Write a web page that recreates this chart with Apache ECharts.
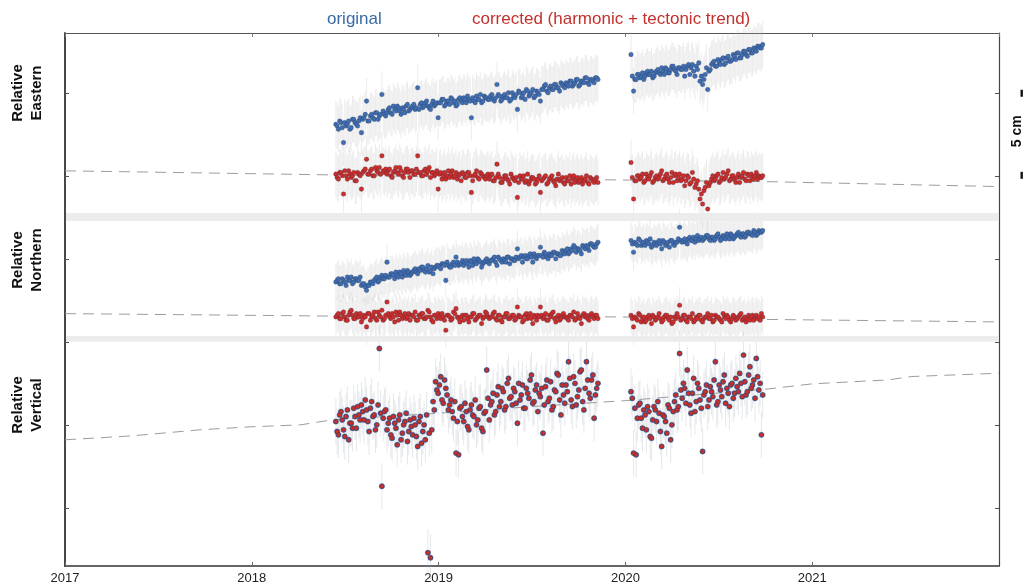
<!DOCTYPE html>
<html>
<head>
<meta charset="utf-8">
<script src="https://cdn.jsdelivr.net/npm/echarts@6/dist/echarts.min.js"></script>
<style>
  html, body { margin: 0; padding: 0; background: #ffffff; }
  #chart { width: 1025px; height: 586px; }
</style>
</head>
<body>
<div id="chart"></div>
<script>
// GNSS station displacement, two observation spans.
// Solutions are listed in two interleaved sets: "a" every 5 days from the span start,
// "b" every 5 days starting 2.5 days later.
const spanStart = [2018.45, 2020.03];   // decimal year of first solution in each span
const stepDays = 5;

// Relative Eastern (mm) - original solutions
const eastOriginal1a = [
  31, 28, 32, 20, 30, 33, 29, 34, 31, 33,
  26, 35, 45, 33, 37, 34, 38, 36, 49, 37,
  38, 41, 37, 40, 42, 39, 41, 38, 43, 40,
  42, 40, 53, 43, 41, 44, 42, 40, 45, 43,
  35, 44, 46, 43, 45, 47, 44, 42, 46, 45,
  47, 44, 46, 35, 45, 48, 46, 44, 48, 47,
  46, 49, 45, 55, 48, 46, 49, 47, 45, 50,
  47, 40, 50, 48, 46, 51, 49, 52, 48, 50,
  45, 52, 55, 50, 54, 52, 55, 53, 56, 54,
  56, 54, 57, 55, 58, 54, 57, 56, 59, 55,
  58, 56, 59
];
const eastOriginal1b = [
  30, 33, 29, 32, 31, 28, 34, 32, 30, 35,
  34, 37, 33, 36, 35, 38, 34, 37, 39, 36,
  40, 38, 42, 39, 41, 37, 40, 42, 39, 41,
  43, 41, 40, 44, 42, 45, 41, 43, 42, 44,
  44, 46, 42, 45, 43, 46, 45, 43, 47, 44,
  46, 48, 45, 47, 44, 46, 49, 45, 47, 46,
  48, 46, 47, 49, 45, 48, 47, 50, 46, 48,
  49, 51, 47, 50, 52, 48, 50, 47, 51, 49,
  52, 54, 51, 53, 52, 55, 53, 51, 55, 53,
  55, 57, 54, 56, 58, 55, 57, 59, 56, 58,
  57, 59, 58
];
const eastOriginal2a = [
  73, 51, 58, 61, 60, 58, 62, 61, 63, 60,
  63, 62, 65, 61, 64, 62, 66, 64, 61, 65,
  64, 60, 66, 61, 67, 60, 64, 57, 55, 61,
  52, 64, 68, 66, 70, 67, 71, 68, 72, 69,
  73, 70, 74, 71, 75, 73, 76, 74, 77, 75,
  78, 77
];
const eastOriginal2b = [
  60, 58, 61, 59, 62, 60, 63, 61, 59, 62,
  64, 61, 63, 65, 62, 64, 66, 63, 65, 64,
  66, 64, 67, 65, 63, 66, 68, 60, 58, 65,
  63, 67, 69, 66, 68, 70, 67, 71, 69, 70,
  72, 74, 71, 73, 75, 72, 76, 74, 76, 78,
  77, 79
];
// Relative Eastern (mm) - corrected (harmonic + tectonic trend removed)
const eastCorrected1a = [
  1, -2, 2, -11, 0, 3, -1, 2, -3, 1,
  -8, 3, 10, 1, 4, 0, 3, 5, 12, 2,
  1, 4, -1, 3, 2, 5, 0, 2, 4, -1,
  3, 1, 12, 2, 0, 4, 3, -1, 2, 1,
  -8, 2, 0, -2, 3, 1, -1, 2, 0, -3,
  1, -1, 2, -10, 0, 3, -2, 1, -1, 0,
  -2, 1, -3, 7, -1, -4, 0, -2, -5, -1,
  -3, -13, 0, -2, -4, 1, -3, -1, -5, -2,
  -10, -2, 0, -4, -1, -3, -6, 1, -2, -4,
  -1, -3, -5, 0, -2, -4, -1, -3, 0, -5,
  -2, -4, -1
];
const eastCorrected1b = [
  -1, 2, 0, 3, -2, 1, 0, -3, 2, 0,
  2, 4, 1, 3, 0, 5, 2, 1, 3, 4,
  3, 0, 2, 5, 1, 3, -1, 4, 2, 3,
  1, 4, 2, 0, 3, 1, 5, 2, 0, 3,
  1, -2, 2, 0, -1, 3, 0, -2, 1, 2,
  -1, 2, 0, -3, 1, -1, 2, 0, -2, 1,
  0, -3, -1, 1, -4, -2, 0, -3, 1, -2,
  -1, -4, -2, 0, -3, -5, -1, -2, -4, 0,
  -3, -1, -5, -2, 0, -4, -2, -3, -1, -5,
  -3, 0, -2, -4, -1, -3, -5, -2, -4, -1,
  -3, -2, -4
];
const eastCorrected2a = [
  8, -14, -3, 0, -1, -4, 1, -2, 2, -3,
  0, -1, 3, -2, 1, -4, 2, 0, -3, 1,
  -2, -6, 0, -5, 2, -7, -3, -14, -17, -7,
  -20, -4, 0, -2, 1, -3, 2, -1, 3, -2,
  0, -4, 1, -1, 2, -3, 0, 1, -2, 2,
  0, -1
];
const eastCorrected2b = [
  -1, -3, 0, -2, 1, -3, -1, 0, -4, -1,
  -2, 1, -3, 0, -2, -1, -4, 1, -1, -3,
  0, -3, -1, -4, -2, -5, -8, -11, -9, -4,
  -6, -2, -3, 0, -4, -1, -2, 1, -3, 0,
  -2, -1, -4, 0, -2, 1, -3, -1, 0, -2,
  -1, 0
];

// Relative Northern (mm) - original solutions
const northOriginal1a = [
  21, 23, 20, 22, 19, 22, 24, 21, 23, 22,
  19, 20, 16, 19, 21, 22, 24, 22, 25, 23,
  33, 24, 26, 23, 25, 27, 24, 26, 28, 25,
  27, 29, 26, 28, 30, 27, 31, 28, 26, 30,
  31, 29, 32, 22, 31, 30, 33, 36, 31, 32,
  31, 34, 30, 33, 35, 32, 34, 30, 33, 35,
  32, 34, 36, 31, 35, 33, 34, 36, 32, 35,
  34, 41, 36, 33, 37, 35, 38, 33, 36, 37,
  42, 36, 38, 35, 37, 39, 35, 38, 37, 39,
  40, 38, 41, 43, 39, 41, 38, 42, 43, 40,
  44, 42, 44
];
const northOriginal1b = [
  22, 20, 23, 21, 24, 22, 20, 23, 22, 24,
  20, 18, 19, 21, 20, 23, 21, 24, 23, 25,
  24, 26, 25, 27, 24, 26, 28, 25, 27, 26,
  28, 27, 29, 30, 28, 29, 27, 30, 29, 31,
  30, 32, 31, 33, 30, 32, 31, 33, 32, 34,
  33, 32, 34, 31, 33, 35, 33, 32, 34, 33,
  34, 35, 33, 36, 34, 35, 33, 36, 35, 34,
  36, 35, 37, 36, 35, 37, 36, 38, 35, 37,
  37, 39, 36, 38, 37, 39, 38, 37, 40, 38,
  41, 39, 40, 42, 41, 40, 43, 41, 42, 44,
  43, 42, 45
];
const northOriginal2a = [
  46, 39, 44, 47, 43, 45, 46, 44, 42, 45,
  43, 46, 41, 45, 44, 42, 46, 43, 45, 54,
  45, 47, 44, 48, 46, 45, 49, 47, 46, 48,
  49, 46, 48, 47, 50, 46, 49, 47, 48, 50,
  47, 49, 51, 48, 50, 49, 51, 50, 52, 49,
  52, 51
];
const northOriginal2b = [
  44, 45, 43, 46, 44, 43, 45, 47, 43, 44,
  45, 44, 46, 43, 45, 46, 44, 45, 47, 46,
  46, 45, 47, 46, 48, 47, 46, 48, 47, 49,
  47, 48, 46, 49, 48, 47, 48, 50, 47, 49,
  48, 50, 49, 50, 48, 51, 50, 49, 51, 50,
  51, 52
];
// Relative Northern (mm) - corrected
const northCorrected1a = [
  0, 2, -1, 3, -2, 1, 4, -1, 2, 0,
  -3, 1, -6, 2, 0, 3, -2, 1, 4, -1,
  9, 0, 2, -3, 1, 3, -1, 2, 0, -2,
  1, 3, -2, 0, 2, -1, 4, 0, -3, 1,
  2, -1, 0, -8, 1, -2, 3, 5, -1, 0,
  -2, 1, -3, 0, 2, -1, 1, -4, 0, 2,
  -1, 0, 3, -2, 1, -3, 0, 2, -1, 1,
  -2, 6, 0, -3, 1, -1, 2, -4, 0, 1,
  6, -1, 2, -2, 0, 3, -3, 1, -1, 2,
  0, -2, 1, 3, -1, 0, -4, 2, 1, -2,
  2, -1, 1
];
const northCorrected1b = [
  1, -1, 2, 0, -2, 3, 1, -1, 0, 2,
  -1, 0, 2, -2, 1, -1, 3, 0, -2, 1,
  2, -1, 0, 3, -2, 1, 0, -1, 2, 1,
  0, -2, 1, 2, -1, 0, 3, -2, 1, -1,
  0, 2, -2, 1, 0, -1, 2, 0, -3, 1,
  1, -1, 0, 2, -2, 0, 1, -1, 3, 0,
  0, 2, -1, 1, -2, 0, 2, -1, 0, 1,
  -1, 1, 0, -2, 2, 0, -1, 1, -2, 0,
  1, 0, -2, 1, 2, -1, 0, -2, 1, 0,
  -1, 1, 0, -2, 2, -1, 1, 0, -1, 1,
  0, 1, -1
];
const northCorrected2a = [
  1, -6, -1, 2, -3, 0, -2, 1, -4, 0,
  -1, 2, -3, 0, 1, -2, -4, 0, 2, 7,
  -1, 1, -3, 0, 2, -2, -1, 1, -3, 0,
  2, -1, -3, 1, 0, -2, 2, -1, 0, -3,
  1, -2, 0, 2, -1, -3, 1, 0, -2, 1,
  0, 2
];
const northCorrected2b = [
  -1, 0, -2, 1, -1, -3, 0, -1, 1, -2,
  0, -1, -2, 1, -1, 0, -3, -1, 0, -2,
  1, -2, 0, -1, -3, 0, 1, -2, -1, 0,
  -1, 1, -2, 0, -1, -3, 0, 1, -2, -1,
  0, -1, 1, -2, 0, -1, -2, 1, 0, -1,
  -2, 0
];

// Relative Vertical (mm) - original and corrected coincide
const vertical1a = [
  2, -6, 8, -3, 5, -9, 1, 10, -2, 6,
  12, 3, 9, -4, 14, 6, 0, 46, -37, 8,
  -3, 4, -8, 1, -12, 6, -5, 2, -10, 3,
  -6, 0, -13, 5, -4, -9, -77, -80, 14, 26,
  19, 29, 13, 22, 9, 15, 4, -17, -18, 11,
  2, 8, -3, 12, 5, 0, 10, -2, 7, 33,
  3, 14, 6, 18, 11, 22, 9, 25, 16, 12,
  20, 1, 15, 24, 10, 19, 27, 13, 21, 8,
  17, -5, 23, 14, 26, 11, 20, 30, 6, 18,
  24, 38, 15, 29, 12, 21, 33, 9, 38, 19,
  27, 4, 22
];
const vertical1b = [
  -4, 6, 3, -7, 9, 1, -2, 5, 11, 3,
  8, 15, 2, 10, 5, -3, 12, 7, 4, 9,
  1, -6, 5, -2, 3, -9, 0, 7, -4, -1,
  4, -7, 2, -11, 0, 6, -5, -3, 9, 21,
  24, 15, 27, 18, 12, 8, 14, 2, 10, 5,
  13, -1, 9, 6, 15, 3, 11, -4, 8, 16,
  12, 19, 8, 23, 14, 20, 11, 28, 17, 22,
  13, 25, 18, 10, 22, 16, 30, 14, 24, 19,
  22, 12, 27, 16, 9, 21, 31, 15, 24, 13,
  20, 28, 11, 25, 17, 32, 14, 22, 27, 16,
  30, 18, 25
];
const vertical2a = [
  20, -17, -18, 12, 4, 9, -3, 8, -8, 11,
  2, 7, -13, 5, -5, 10, 0, 14, 9, 43,
  16, 22, 33, 12, 19, 8, 25, 15, -16, 20,
  11, 23, 17, 38, 14, 21, 26, 13, 19, 24,
  16, 28, 20, 25, 42, 18, 30, 22, 27, 40,
  21, -6
];
const vertical2b = [
  16, 10, 4, 13, -2, 6, 11, -7, 3, 9,
  14, -4, 6, 2, 12, -9, 8, 18, 11, 21,
  25, 13, 19, 7, 28, 14, 22, 10, 18, 24,
  15, 20, 27, 12, 24, 17, 30, 22, 11, 25,
  19, 23, 31, 17, 26, 20, 35, 24, 16, 29,
  25, 18
];

// Fitted model curves, [decimal year, mm]
const eastModel = [[2017, 3], [2018.45, 0.5], [2019.95, -2.5], [2020.75, -3.5], [2022, -6.5]];
const northModel = [[2017, 2], [2018.45, 0.5], [2019.95, 0], [2020.75, -1.5], [2022, -3]];
const verticalModel = [[2017, -9], [2017.36, -6.6], [2017.72, -3], [2017.99, -1.2], [2018.26, 0],
  [2018.43, 3], [2019.0, 7], [2019.5, 11], [2020.0, 14.6], [2020.77, 21.7], [2021.0, 24.7],
  [2021.41, 27.1], [2021.53, 29.1], [2022, 31.1]];

// One-sigma formal errors (mm)
const sigmaEast = 14;
const sigmaNorth = 11;
const sigmaVertical = 14;

const yearTicks = [2017, 2018, 2019, 2020, 2021];

// ---- layout: all three components share one mm axis, stacked by an offset ----
const FONT = '"Liberation Sans", Arial, Helvetica, sans-serif';
const BLUE = '#3f6fb2';
const RED = '#cc2e2a';
const panelBase = { east: 200, north: 115, vertical: 50 };
const separators = [[172.8, 177.6], [100, 103.5]];

function toSeries(values, span, lagDays, base) {
  return values.map((v, i) => [spanStart[span] + (i * stepDays + lagDays) / 365.25, base + v]);
}
function gather(a1, b1, a2, b2, base) {
  return toSeries(a1, 0, 0, base)
    .concat(toSeries(b1, 0, stepDays / 2, base))
    .concat(toSeries(a2, 1, 0, base))
    .concat(toSeries(b2, 1, stepDays / 2, base))
    .sort((p, q) => p[0] - q[0]);
}
function withSigma(pts, s) {
  return pts.map(p => [p[0], p[1], s]);
}
function shifted(model, base) {
  return model.map(p => [p[0], base + p[1]]);
}

const eO = gather(eastOriginal1a, eastOriginal1b, eastOriginal2a, eastOriginal2b, panelBase.east);
const eC = gather(eastCorrected1a, eastCorrected1b, eastCorrected2a, eastCorrected2b, panelBase.east);
const nO = gather(northOriginal1a, northOriginal1b, northOriginal2a, northOriginal2b, panelBase.north);
const nC = gather(northCorrected1a, northCorrected1b, northCorrected2a, northCorrected2b, panelBase.north);
const uV = gather(vertical1a, vertical1b, vertical2a, vertical2b, panelBase.vertical);

function errorBars(pts, s, stroke) {
  return {
    type: 'custom',
    z: 1,
    silent: true,
    data: withSigma(pts, s),
    encode: { x: 0, y: 1 },
    renderItem: function (params, api) {
      const t = api.value(0), v = api.value(1), e = api.value(2);
      const a = api.coord([t, v - e]);
      const b = api.coord([t, v + e]);
      return {
        type: 'line',
        shape: { x1: a[0], y1: a[1], x2: b[0], y2: b[1] },
        style: { stroke: stroke, lineWidth: 1 }
      };
    }
  };
}
function dots(pts, color, size, z) {
  return {
    type: 'scatter',
    z: z,
    data: pts,
    symbol: 'circle',
    symbolSize: size,
    itemStyle: { color: color, borderColor: 'rgba(35,40,70,0.5)', borderWidth: 0.5, opacity: 1 },
    emphasis: { disabled: true },
    silent: true
  };
}
function modelLine(model, base) {
  return {
    type: 'line',
    z: 2,
    data: shifted(model, base),
    symbol: 'none',
    silent: true,
    lineStyle: { color: '#9c9c9c', width: 1, type: [11, 7] }
  };
}

const chart = echarts.init(document.getElementById('chart'), null, { renderer: 'canvas' });

const yAxisBase = {
  type: 'value',
  min: -35,
  max: 286,
  axisLabel: { show: false },
  splitLine: { show: false },
  axisTick: { show: true, inside: true, length: 4, customValues: [0, 50, 100, 150, 200, 250], lineStyle: { color: '#555' } }
};

const BAR_GREY = 'rgba(180,182,186,0.26)';

chart.setOption({
  animation: false,
  backgroundColor: '#ffffff',
  grid: { left: 65, right: 26, top: 33, bottom: 20, containLabel: false },
  xAxis: [
    {
      type: 'value', min: 2017, max: 2022, interval: 1, position: 'bottom',
      axisLine: { show: true, onZero: false, lineStyle: { color: '#333', width: 1.5 } },
      axisTick: { show: true, inside: true, length: 4, lineStyle: { color: '#666' } },
      axisLabel: {
        show: true, margin: 6, color: '#222', fontSize: 13, fontFamily: FONT,
        showMinLabel: true, showMaxLabel: false,
        formatter: v => (yearTicks.indexOf(v) >= 0 ? String(v) : '')
      },
      splitLine: { show: false }
    },
    {
      type: 'value', min: 2017, max: 2022, interval: 1, position: 'top',
      axisLine: { show: true, onZero: false, lineStyle: { color: '#555', width: 1.2 } },
      axisTick: { show: true, inside: true, length: 4, lineStyle: { color: '#777' } },
      axisLabel: { show: false },
      splitLine: { show: false }
    }
  ],
  yAxis: [
    Object.assign({}, yAxisBase, { position: 'left', axisLine: { show: true, onZero: false, lineStyle: { color: '#333', width: 1.8 } } }),
    Object.assign({}, yAxisBase, { position: 'right', axisLine: { show: true, onZero: false, lineStyle: { color: '#444', width: 1.2 } } })
  ],
  series: [
    errorBars(eO, sigmaEast, BAR_GREY),
    errorBars(eC, sigmaEast, BAR_GREY),
    errorBars(nO, sigmaNorth, BAR_GREY),
    errorBars(nC, sigmaNorth, BAR_GREY),
    errorBars(uV, sigmaVertical, 'rgba(170,180,188,0.30)'),
    modelLine(eastModel, panelBase.east),
    modelLine(northModel, panelBase.north),
    modelLine(verticalModel, panelBase.vertical),
    {
      type: 'custom',
      z: 3,
      silent: true,
      data: separators,
      renderItem: function (params, api) {
        const a = api.coord([2017, api.value(1)]);
        const b = api.coord([2022, api.value(0)]);
        return {
          type: 'rect',
          shape: { x: a[0] + 1, y: a[1], width: b[0] - a[0] - 1, height: b[1] - a[1] },
          style: { fill: '#ececec' }
        };
      }
    },
    dots(eO, BLUE, 4.6, 4),
    dots(eC, RED, 4.6, 4),
    dots(nO, BLUE, 4.6, 4),
    dots(nC, RED, 4.6, 4),
    dots(uV, BLUE, 5.4, 4),
    dots(uV, RED, 4.2, 5)
  ]
});

// Scale bar spanning 5 cm on the shared axis
const yTop = chart.convertToPixel({ yAxisIndex: 0 }, 250);
const yBot = chart.convertToPixel({ yAxisIndex: 0 }, 200);

function panelLabel(text, cy) {
  return {
    type: 'text', x: 27, y: cy, rotation: Math.PI / 2,
    style: {
      text: text, fill: '#111', font: 'bold 15px ' + FONT,
      textAlign: 'center', textVerticalAlign: 'middle', lineHeight: 19
    }
  };
}

chart.setOption({
  graphic: [
    { type: 'text', x: 327, y: 19, style: { text: 'original', fill: '#3a6aa6', font: '17px ' + FONT, textAlign: 'left', textVerticalAlign: 'middle' } },
    { type: 'text', x: 472, y: 19, style: { text: 'corrected (harmonic + tectonic trend)', fill: '#c4302b', font: '17px ' + FONT, textAlign: 'left', textVerticalAlign: 'middle' } },
    panelLabel('Relative\nEastern', 93),
    panelLabel('Relative\nNorthern', 260),
    panelLabel('Relative\nVertical', 405),
    { type: 'rect', shape: { x: 1020.5, y: yTop - 3, width: 2.4, height: 7 }, style: { fill: '#111' } },
    { type: 'rect', shape: { x: 1020.5, y: yBot - 4, width: 2.4, height: 7 }, style: { fill: '#111' } },
    {
      type: 'text', x: 1017, y: (yTop + yBot) / 2 - 3, rotation: Math.PI / 2,
      style: { text: '5 cm', fill: '#111', font: 'bold 14px ' + FONT, textAlign: 'center', textVerticalAlign: 'middle' }
    }
  ]
});
</script>
</body>
</html>
